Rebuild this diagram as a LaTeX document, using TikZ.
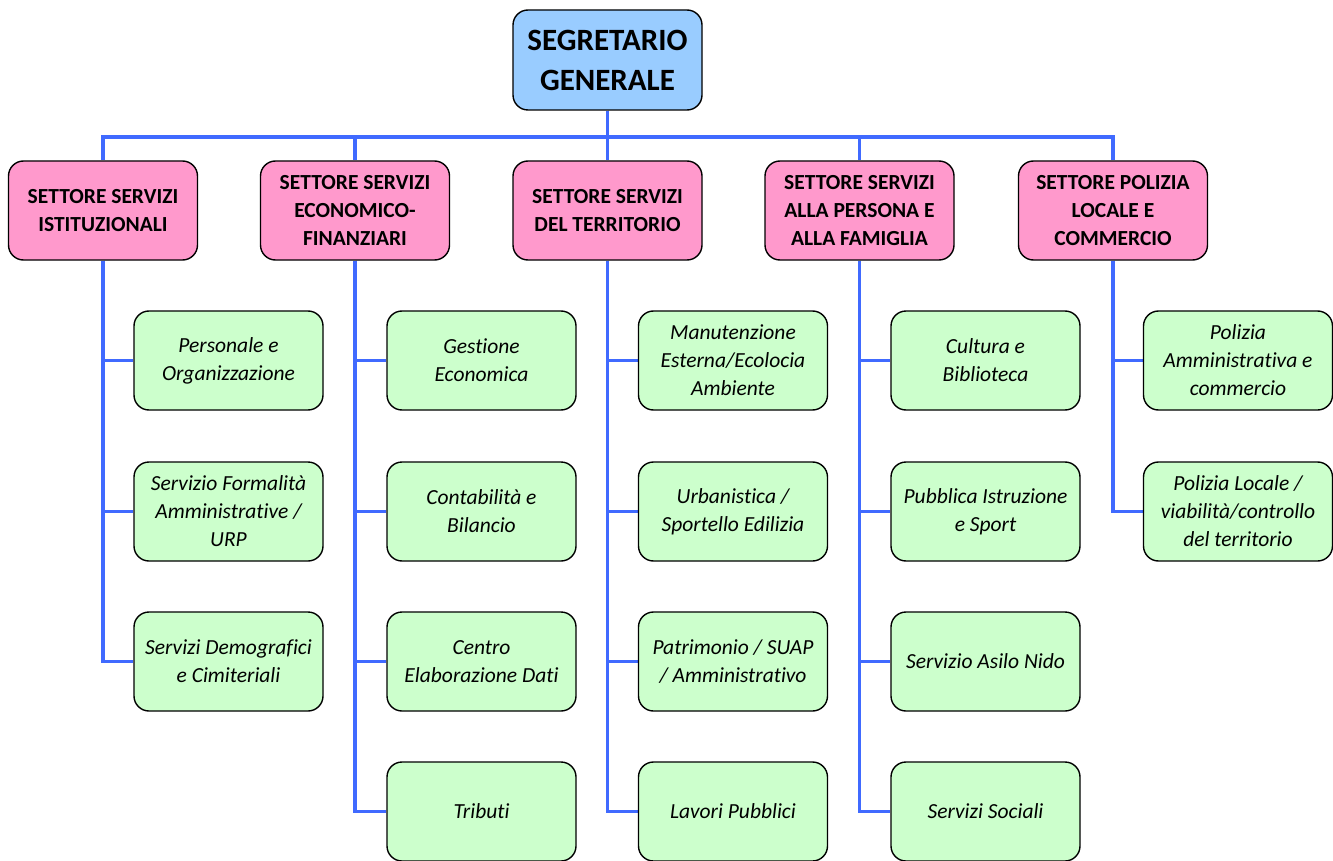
\documentclass[tikz,border=0pt]{standalone}
\usepackage{fontspec}
\setmainfont{Carlito}[Ligatures=NoCommon]
\usetikzlibrary{backgrounds}
\begin{document}
\begin{tikzpicture}[x=1pt,y=-1pt,
  link/.style={draw=linkblue,line width=3.5pt},
  boxbase/.style={draw=black,line width=1.4pt,rounded corners=15pt,
    minimum width=189pt,minimum height=99pt,inner sep=0pt,align=center},
  headbox/.style={boxbase,fill=headblue,
    font=\fontsize{31}{40}\selectfont\bfseries},
  sectorbox/.style={boxbase,fill=sectorpink,
    font=\fontsize{21.5}{28}\selectfont\bfseries},
  unitbox/.style={boxbase,fill=unitgreen,
    font=\fontsize{21.5}{28}\selectfont\itshape}]
\definecolor{linkblue}{RGB}{64,106,255}
\definecolor{headblue}{RGB}{153,204,255}
\definecolor{sectorpink}{RGB}{255,153,204}
\definecolor{unitgreen}{RGB}{204,255,204}
\useasboundingbox (0,0) rectangle (1333,861);

% head of the organisation
\node[headbox,minimum height=100pt] (sg) at (607.5,60) {SEGRETARIO\\GENERALE};

% sectors
\node[sectorbox] (s1) at (103,210.5) {SETTORE SERVIZI\\ISTITUZIONALI};
\node[sectorbox] (s2) at (355,210.5) {SETTORE SERVIZI\\ECONOMICO-\\FINANZIARI};
\node[sectorbox] (s3) at (607.5,210.5) {SETTORE SERVIZI\\DEL TERRITORIO};
\node[sectorbox] (s4) at (859.5,210.5) {SETTORE SERVIZI\\ALLA PERSONA E\\ALLA FAMIGLIA};
\node[sectorbox] (s5) at (1113,210.5) {SETTORE POLIZIA\\LOCALE E\\COMMERCIO};

% offices of each sector
\node[unitbox] (u11) at (228.5,360.5) {Personale e\\Organizzazione};
\node[unitbox] (u12) at (228.5,511.5) {Servizio Formalità\\Amministrative /\\URP};
\node[unitbox] (u13) at (228.5,661.5) {Servizi Demografici\\e Cimiteriali};

\node[unitbox] (u21) at (481.5,360.5) {Gestione\\Economica};
\node[unitbox] (u22) at (481.5,511.5) {Contabilità e\\Bilancio};
\node[unitbox] (u23) at (481.5,661.5) {Centro\\Elaborazione Dati};
\node[unitbox] (u24) at (481.5,811.5) {Tributi};

\node[unitbox] (u31) at (733,360.5) {Manutenzione\\Esterna/Ecolocia\\Ambiente};
\node[unitbox] (u32) at (733,511.5) {Urbanistica /\\Sportello Edilizia};
\node[unitbox] (u33) at (733,661.5) {Patrimonio / SUAP\\/ Amministrativo};
\node[unitbox] (u34) at (733,811.5) {Lavori Pubblici};

\node[unitbox] (u41) at (985.5,360.5) {Cultura e\\Biblioteca};
\node[unitbox] (u42) at (985.5,511.5) {Pubblica Istruzione\\e Sport};
\node[unitbox] (u43) at (985.5,661.5) {Servizio Asilo Nido};
\node[unitbox] (u44) at (985.5,811.5) {Servizi Sociali};

\node[unitbox] (u51) at (1238,360.5) {Polizia\\Amministrativa e\\commercio};
\node[unitbox] (u52) at (1238,511.5) {Polizia Locale /\\viabilità/controllo\\del territorio};

% connectors, drawn beneath the boxes
\begin{scope}[on background layer]
\coordinate (bus) at (607.5,137);
\foreach \s in {s1,s2,s3,s4,s5}
  \draw[link] (sg.south) -- (bus) -| (\s.north);
\foreach \u in {u11,u12,u13}
  \draw[link] (s1.south) |- (\u.west);
\foreach \u in {u21,u22,u23,u24}
  \draw[link] (s2.south) |- (\u.west);
\foreach \u in {u31,u32,u33,u34}
  \draw[link] (s3.south) |- (\u.west);
\foreach \u in {u41,u42,u43,u44}
  \draw[link] (s4.south) |- (\u.west);
\foreach \u in {u51,u52}
  \draw[link] (s5.south) |- (\u.west);
\end{scope}
\end{tikzpicture}
\end{document}
